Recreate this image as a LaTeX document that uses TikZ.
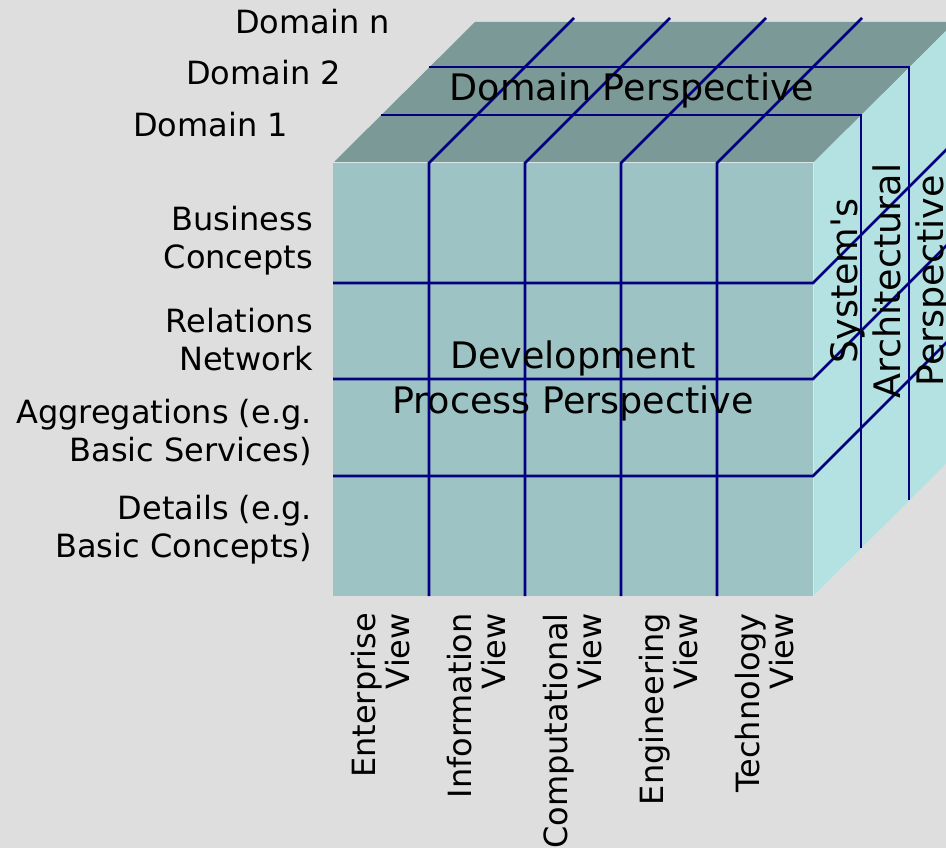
\documentclass[tikz,border=0pt]{standalone}
\usepackage{fontspec}
\setmainfont{DejaVu Sans}[Ligatures=TeXOff]
\definecolor{bg}{RGB}{222,222,222}
\definecolor{frontc}{RGB}{157,195,196}
\definecolor{topc}{RGB}{122,153,151}
\definecolor{rightc}{RGB}{180,225,226}
\definecolor{gridc}{RGB}{0,0,128}
\tikzset{
  grid/.style={draw=gridc, line width=2.8pt, line join=miter},
  lbl/.style={inner sep=0pt, font=\fontsize{32}{38}\selectfont},
  big/.style={inner sep=0pt, font=\fontsize{36.5}{45}\selectfont},
}
\begin{document}
\begin{tikzpicture}[x=1pt,y=-1pt]
\useasboundingbox (0,0) rectangle (946,848);
\clip (0,0) rectangle (946,848);
\fill[bg] (0,0) rectangle (946,848);
% faces
\fill[topc] (333,163) -- (475,22) -- (955,22) -- (813,163) -- cycle;
\fill[rightc] (813,163) -- (955,22) -- (955,455) -- (813,596) -- cycle;
\fill[frontc] (333,163) rectangle (813,596);
\draw[white!60!frontc, line width=1pt] (333,163) -- (813,163) -- (813,596);
% front verticals + top diagonals
\foreach \x in {429,525,621,717}
  \draw[grid] (\x,596) -- (\x,163) -- ++(145,-145);
% front horizontals + right diagonals
\foreach \y in {283,379,476}
  \draw[grid] (333,\y) -- (813,\y) -- ++(160,-160);
% domain lines
\draw[grid] (381,115) -- (861,115) -- (861,548);
\draw[grid] (429,67) -- (909,67) -- (909,500);
% labels
\node[lbl, anchor=east] (dn) at (390,22) {Domain n};
\node[lbl, anchor=east] (d2) at (341,73) {Domain 2};
\node[lbl, anchor=east] (d1) at (288,125) {Domain 1};
\node[big] (dp) at (632,90) {Domain Perspective};
\node[lbl, anchor=east, align=right] (bc) at (313,241) {Business\\Concepts};
\node[lbl, anchor=east, align=right] (rn) at (313,340) {Relations\\Network};
\node[lbl, anchor=east, align=right] (ag) at (312,432) {Aggregations (e.g.\\Basic Services)};
\node[lbl, anchor=east, align=right] (de) at (312,530) {Details (e.g.\\Basic Concepts)};
\node[big, align=center] (dev) at (573,381) {Development\\Process Perspective};
\node[big, align=center, rotate=90, font=\fontsize{36.5}{43}\selectfont] (sys) at (891,281) {System's\\Architectural\\Perspective};
\foreach \n/\x/\t in {ev/381/Enterprise, iv/477/Information, cv/573/Computational, gv/669/Engineering, tv/765/Technology}
  \node[lbl, rotate=90, anchor=east, align=right, font=\fontsize{32}{34}\selectfont] (\n) at (\x,613) {\t\\View};
\end{tikzpicture}
\end{document}
